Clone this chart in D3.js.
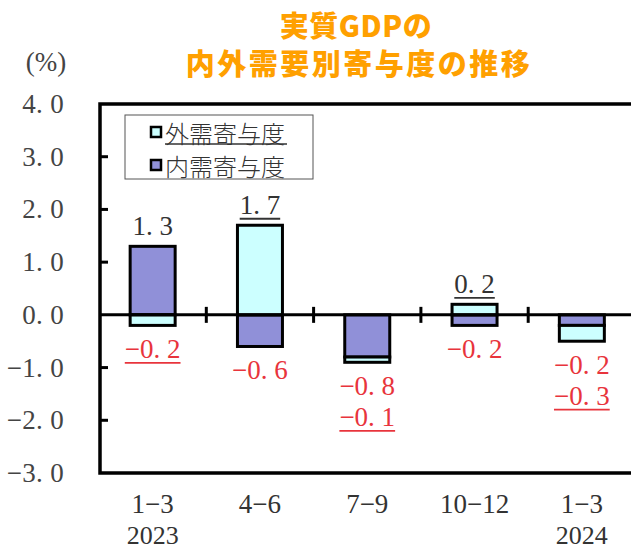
<!DOCTYPE html>
<html><head><meta charset="utf-8">
<script src="https://cdn.jsdelivr.net/npm/d3@7"></script>
<style>
html,body{margin:0;padding:0;background:#fff;}
svg{display:block;}
</style></head>
<body>
<svg id="chart" width="631" height="551"></svg>
<script>
const titleLines = ["実質GDPの", "内外需要別寄与度の推移"];
const quarters = ["1−3", "4−6", "7−9", "10−12", "1−3"];
const years = ["2023", "", "", "", "2024"];
const seriesNames = ["外需寄与度", "内需寄与度"];
const external = [-0.2, 1.7, -0.1, 0.2, -0.3];   // 外需寄与度
const domestic = [1.3, -0.6, -0.8, -0.2, -0.2];  // 内需寄与度
const yTicks = [-3, -2, -1, 0, 1, 2, 3, 4];
const unitLabel = "(%)";

const colors = { ext: "#CCFFFF", dom: "#9090D8" };
const svg = d3.select("#chart");
const W = 631, H = 551;
const serif = "'Liberation Serif','DejaVu Serif',serif";
const cjk = "'Noto Sans CJK JP','Noto Sans CJK SC',sans-serif";

const x = d3.scaleBand().domain(d3.range(quarters.length)).range([99, 635.5]).padding(0);
const y = d3.scaleLinear().domain([-3, 4]).range([473, 104]);
const fmt = v => { const s = Math.abs(v).toFixed(1).replace(".", ". "); return (v < 0 ? "−" : "") + s; };

// Title
svg.append("g").selectAll("text").data(titleLines).join("text")
  .attr("x", (d, i) => i === 0 ? 356 : 359)
  .attr("y", (d, i) => i === 0 ? 24 : 62)
  .attr("text-anchor", "middle").attr("dominant-baseline", "central")
  .attr("font-family", cjk).attr("font-weight", 900)
  .attr("font-size", 29).attr("letter-spacing", (d, i) => i === 0 ? 0.5 : 2.5)
  .attr("fill", "#FFA000").text(d => d);

// unit
svg.append("text").attr("x", 46).attr("y", 62).attr("text-anchor", "middle")
  .attr("dominant-baseline", "central").attr("font-family", serif).attr("font-size", 27)
  .attr("fill", "#444").text(unitLabel);

// y tick labels
svg.append("g").selectAll("text").data(yTicks).join("text")
  .attr("x", 64).attr("y", d => y(d)).attr("text-anchor", "end")
  .attr("dominant-baseline", "central").attr("font-family", serif).attr("font-size", 27)
  .attr("letter-spacing", 0.3).attr("fill", "#444")
  .text(d => (d < 0 ? "−" : "") + Math.abs(d).toFixed(1).replace(".", ". "));

// y ticks (inward)
svg.append("g").selectAll("line").data(yTicks.filter(d => d !== 0 && d > -3 && d < 4)).join("line")
  .attr("x1", 100).attr("x2", 108).attr("y1", d => y(d)).attr("y2", d => y(d))
  .attr("stroke", "#000").attr("stroke-width", 3);

// Bars
const barW = 45;
const segs = [];
quarters.forEach((q, i) => {
  let pos = 0, neg = 0;
  [["dom", domestic[i]], ["ext", external[i]]].forEach(([k, v]) => {
    let y0, y1;
    if (v >= 0) { y0 = pos; y1 = pos + v; pos = y1; }
    else { y0 = neg; y1 = neg + v; neg = y1; }
    segs.push({ i, k, v, y0, y1 });
  });
});
svg.append("g").selectAll("rect").data(segs).join("rect")
  .attr("x", d => x(d.i) + x.bandwidth() / 2 - barW / 2)
  .attr("width", barW)
  .attr("y", d => y(Math.max(d.y0, d.y1)))
  .attr("height", d => Math.abs(y(d.y0) - y(d.y1)))
  .attr("fill", d => colors[d.k]).attr("stroke", "#000").attr("stroke-width", 3);

// Frame
const fr = svg.append("g").attr("stroke", "#000").attr("stroke-width", 3.5).attr("fill", "none");
fr.append("path").attr("d", `M${W + 5},${y(4)} H100 V${y(-3)} H${W + 5}`);
// zero line
svg.append("line").attr("x1", 100).attr("x2", W).attr("y1", y(0)).attr("y2", y(0))
  .attr("stroke", "#000").attr("stroke-width", 3);
// category separators
svg.append("g").selectAll("line").data(d3.range(1, quarters.length)).join("line")
  .attr("x1", d => x(d)).attr("x2", d => x(d)).attr("y1", y(0) - 8).attr("y2", y(0) + 8)
  .attr("stroke", "#000").attr("stroke-width", 3);

// Data labels
const labels = [];
quarters.forEach((q, i) => {
  const items = [{ v: domestic[i], ext: false }, { v: external[i], ext: true }];
  const posItems = items.filter(d => d.v >= 0);
  const negItems = items.filter(d => d.v < 0);
  const top = d3.sum(posItems, d => d.v), bot = d3.sum(negItems, d => d.v);
  posItems.forEach((d, j) => labels.push({ i, v: d.v, ext: d.ext, cy: y(top) - 20 - j * 31 }));
  negItems.forEach((d, j) => labels.push({ i, v: d.v, ext: d.ext, cy: y(bot) + 24 + j * 31 }));
});
const lg = svg.append("g");
labels.forEach(d => {
  const cx = x(d.i) + x.bandwidth() / 2;
  const col = d.v < 0 ? "#E8343C" : "#333";
  const t = lg.append("text").attr("x", cx).attr("y", d.cy).attr("text-anchor", "middle")
    .attr("dominant-baseline", "central").attr("font-family", serif).attr("font-size", 27)
    .attr("fill", col).text(fmt(d.v));
  if (d.ext) {
    const w = t.node().getComputedTextLength();
    lg.append("line").attr("x1", cx - w / 2).attr("x2", cx + w / 2)
      .attr("y1", d.cy + 13.5).attr("y2", d.cy + 13.5).attr("stroke", col).attr("stroke-width", 1.8);
  }
});

// x labels
svg.append("g").selectAll("text").data(quarters).join("text")
  .attr("x", (d, i) => x(i) + x.bandwidth() / 2).attr("y", 504)
  .attr("text-anchor", "middle").attr("dominant-baseline", "central")
  .attr("font-family", serif).attr("font-size", 27).attr("fill", "#333").text(d => d);
svg.append("g").selectAll("text").data(years).join("text")
  .attr("x", (d, i) => x(i) + x.bandwidth() / 2).attr("y", 535)
  .attr("text-anchor", "middle").attr("dominant-baseline", "central")
  .attr("font-family", serif).attr("font-size", 26).attr("fill", "#333").text(d => d);

// Legend
const leg = svg.append("g");
leg.append("rect").attr("x", 125).attr("y", 115).attr("width", 188).attr("height", 64)
  .attr("fill", "#fff").attr("stroke", "#555").attr("stroke-width", 1);
const legItems = [{ name: seriesNames[0], k: "ext", cy: 132 }, { name: seriesNames[1], k: "dom", cy: 165 }];
legItems.forEach((d, j) => {
  leg.append("rect").attr("x", 151).attr("y", d.cy - 5).attr("width", 10).attr("height", 10)
    .attr("fill", colors[d.k]).attr("stroke", "#000").attr("stroke-width", 2.5);
  leg.append("text").attr("x", 165).attr("y", d.cy).attr("dominant-baseline", "central")
    .attr("font-family", cjk).attr("font-weight", 300).attr("font-size", 24).attr("fill", "#333").text(d.name);
  if (j === 0) {
    leg.append("line").attr("x1", 165).attr("x2", 287).attr("y1", d.cy + 12).attr("y2", d.cy + 12)
      .attr("stroke", "#333").attr("stroke-width", 1.5);
  }
});
</script>
</body></html>
